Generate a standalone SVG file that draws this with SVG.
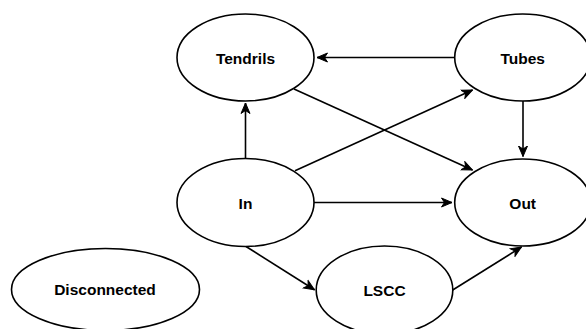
<svg xmlns="http://www.w3.org/2000/svg" width="586" height="329" viewBox="0 0 586 329">
<style>
.node ellipse{fill:#fff;stroke:#000;stroke-width:1.6}
.node text{font-family:"Liberation Sans",Arial,sans-serif;font-weight:bold;font-size:15.5px;text-anchor:middle;fill:#000}
.edge{fill:none;stroke:#000;stroke-width:1.6;marker-end:url(#arr)}
</style>
<defs>
<marker id="arr" markerUnits="userSpaceOnUse" viewBox="-11 -6 12 12" refX="0" refY="0" markerWidth="12" markerHeight="12" orient="auto">
<path d="M0,0 L-10.5,-4.5 L-7.5,0 L-10.5,4.5 Z" fill="#000" stroke="#000" stroke-width="1"/>
</marker>
</defs>
<rect width="586" height="329" fill="#fff"/>
<g id="connectors">
<path class="edge" d="M454.5,57.5 L317,57.5"/>
<path class="edge" d="M245.5,158.5 L245.5,103"/>
<path class="edge" d="M295,170.7 L472.5,90"/>
<path class="edge" d="M294,89 L472.5,170"/>
<path class="edge" d="M523,101 L523,156.5"/>
<path class="edge" d="M314,202.5 L452,202.5"/>
<path class="edge" d="M246,246.5 L314.5,289.8"/>
<path class="edge" d="M452.7,290 L521.5,247"/>
</g>
<g id="tendrils" class="node"><ellipse cx="245.5" cy="57.5" rx="68.5" ry="43.5"/><text x="245.5" y="63.5">Tendrils</text></g>
<g id="tubes" class="node"><ellipse cx="522.7" cy="57.5" rx="68" ry="43.5"/><text x="522.7" y="63.5">Tubes</text></g>
<g id="in" class="node"><ellipse cx="245.5" cy="202.5" rx="68.5" ry="44"/><text x="245.5" y="208.5">In</text></g>
<g id="out" class="node"><ellipse cx="522.7" cy="202.5" rx="68" ry="43.5"/><text x="522.7" y="208.5">Out</text></g>
<g id="lscc" class="node"><ellipse cx="384.5" cy="290" rx="68.3" ry="44"/><text x="384.5" y="295.8">LSCC</text></g>
<g id="disconnected" class="node"><ellipse cx="105.5" cy="289.5" rx="94" ry="41"/><text x="105" y="295.3">Disconnected</text></g>
</svg>
